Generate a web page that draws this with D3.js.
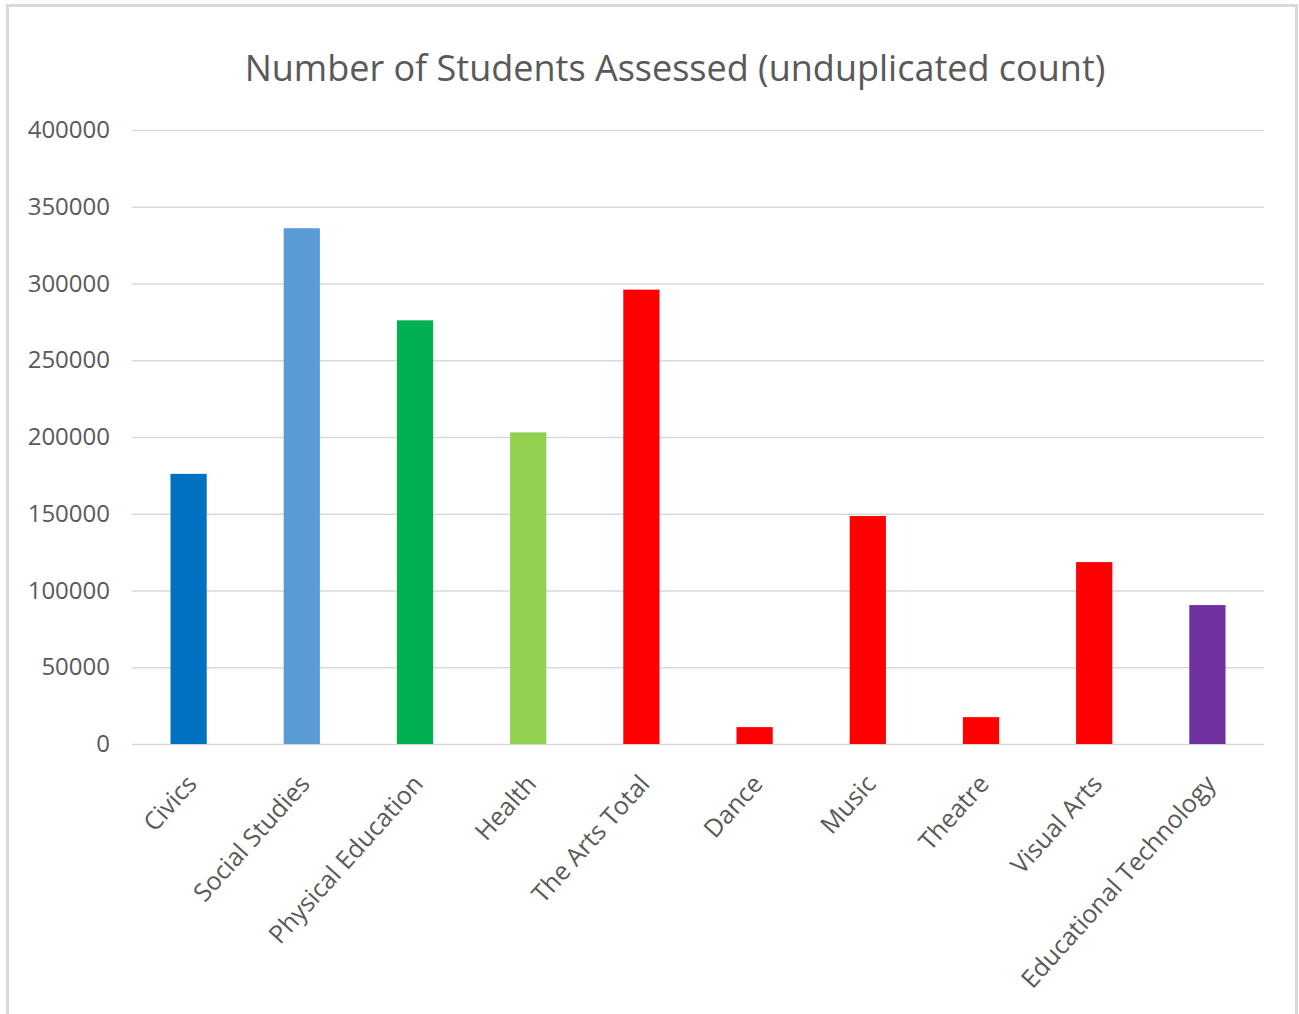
<!DOCTYPE html>
<html><head><meta charset="utf-8">
<script src="https://cdn.jsdelivr.net/npm/d3@7"></script>
<style>html,body{margin:0;padding:0;background:#fff;}svg{display:block;}</style>
</head><body>
<svg id="chart" width="1299" height="1014"></svg>
<script>
const categories = ["Civics","Social Studies","Physical Education","Health","The Arts Total","Dance","Music","Theatre","Visual Arts","Educational Technology"];
const values = [176000, 336000, 276000, 203000, 296000, 11000, 148500, 17500, 118500, 90500];
const barColors = ["#0070C0","#5B9BD5","#00B050","#92D050","#FF0000","#FF0000","#FF0000","#FF0000","#FF0000","#7030A0"];
const yTicks = [0,50000,100000,150000,200000,250000,300000,350000,400000];
const title = "Number of Students Assessed (unduplicated count)";

const svg = d3.select("#chart");
const font = "'Open Sans', 'Noto Sans', sans-serif";
const textColor = "#595959";
const gridColor = "#d9d9d9";

// outer frame
svg.append("rect").attr("x",7.5).attr("y",5.5).attr("width",1289).attr("height",1030)
  .attr("fill","#fff").attr("stroke",gridColor).attr("stroke-width",3);

const plot = {left:132, right:1264, top:130, bottom:744};
const x = d3.scaleBand().domain(categories).range([plot.left, plot.right]).paddingInner(0.68).paddingOuter(0.34);
const y = d3.scaleLinear().domain([0,400000]).range([plot.bottom, plot.top]);

// title
svg.append("text").attr("x",675).attr("y",81).attr("text-anchor","middle")
  .attr("font-family",font).attr("font-size",36).attr("fill",textColor).text(title);

// gridlines + y labels
const yAxis = d3.axisLeft(y).tickValues(yTicks).tickSize(-(plot.right-plot.left)).tickFormat(d3.format("d")).tickPadding(22);
const gy = svg.append("g").attr("transform",`translate(${plot.left},0)`).call(yAxis);
gy.select(".domain").remove();
gy.selectAll(".tick line").attr("stroke",gridColor).attr("stroke-width",1.5);
gy.selectAll(".tick text").attr("font-family",font).attr("font-size",24).attr("fill",textColor);

// bars
svg.append("g").selectAll("rect").data(categories).join("rect")
  .attr("x",d=>x(d)).attr("width",x.bandwidth())
  .attr("y",(d,i)=>y(values[i])).attr("height",(d,i)=>y(0)-y(values[i]))
  .attr("fill",(d,i)=>barColors[i]);

// x labels
const xAxis = d3.axisBottom(x).tickSize(0).tickPadding(0);
const gx = svg.append("g").attr("transform",`translate(0,${plot.bottom})`).call(xAxis);
gx.select(".domain").remove();
gx.selectAll(".tick text")
  .attr("font-family",font).attr("font-size",25).attr("fill",textColor)
  .attr("text-anchor","end").attr("dy","0.35em")
  .attr("transform","translate(3,35) rotate(-48)");
</script>
</body></html>
